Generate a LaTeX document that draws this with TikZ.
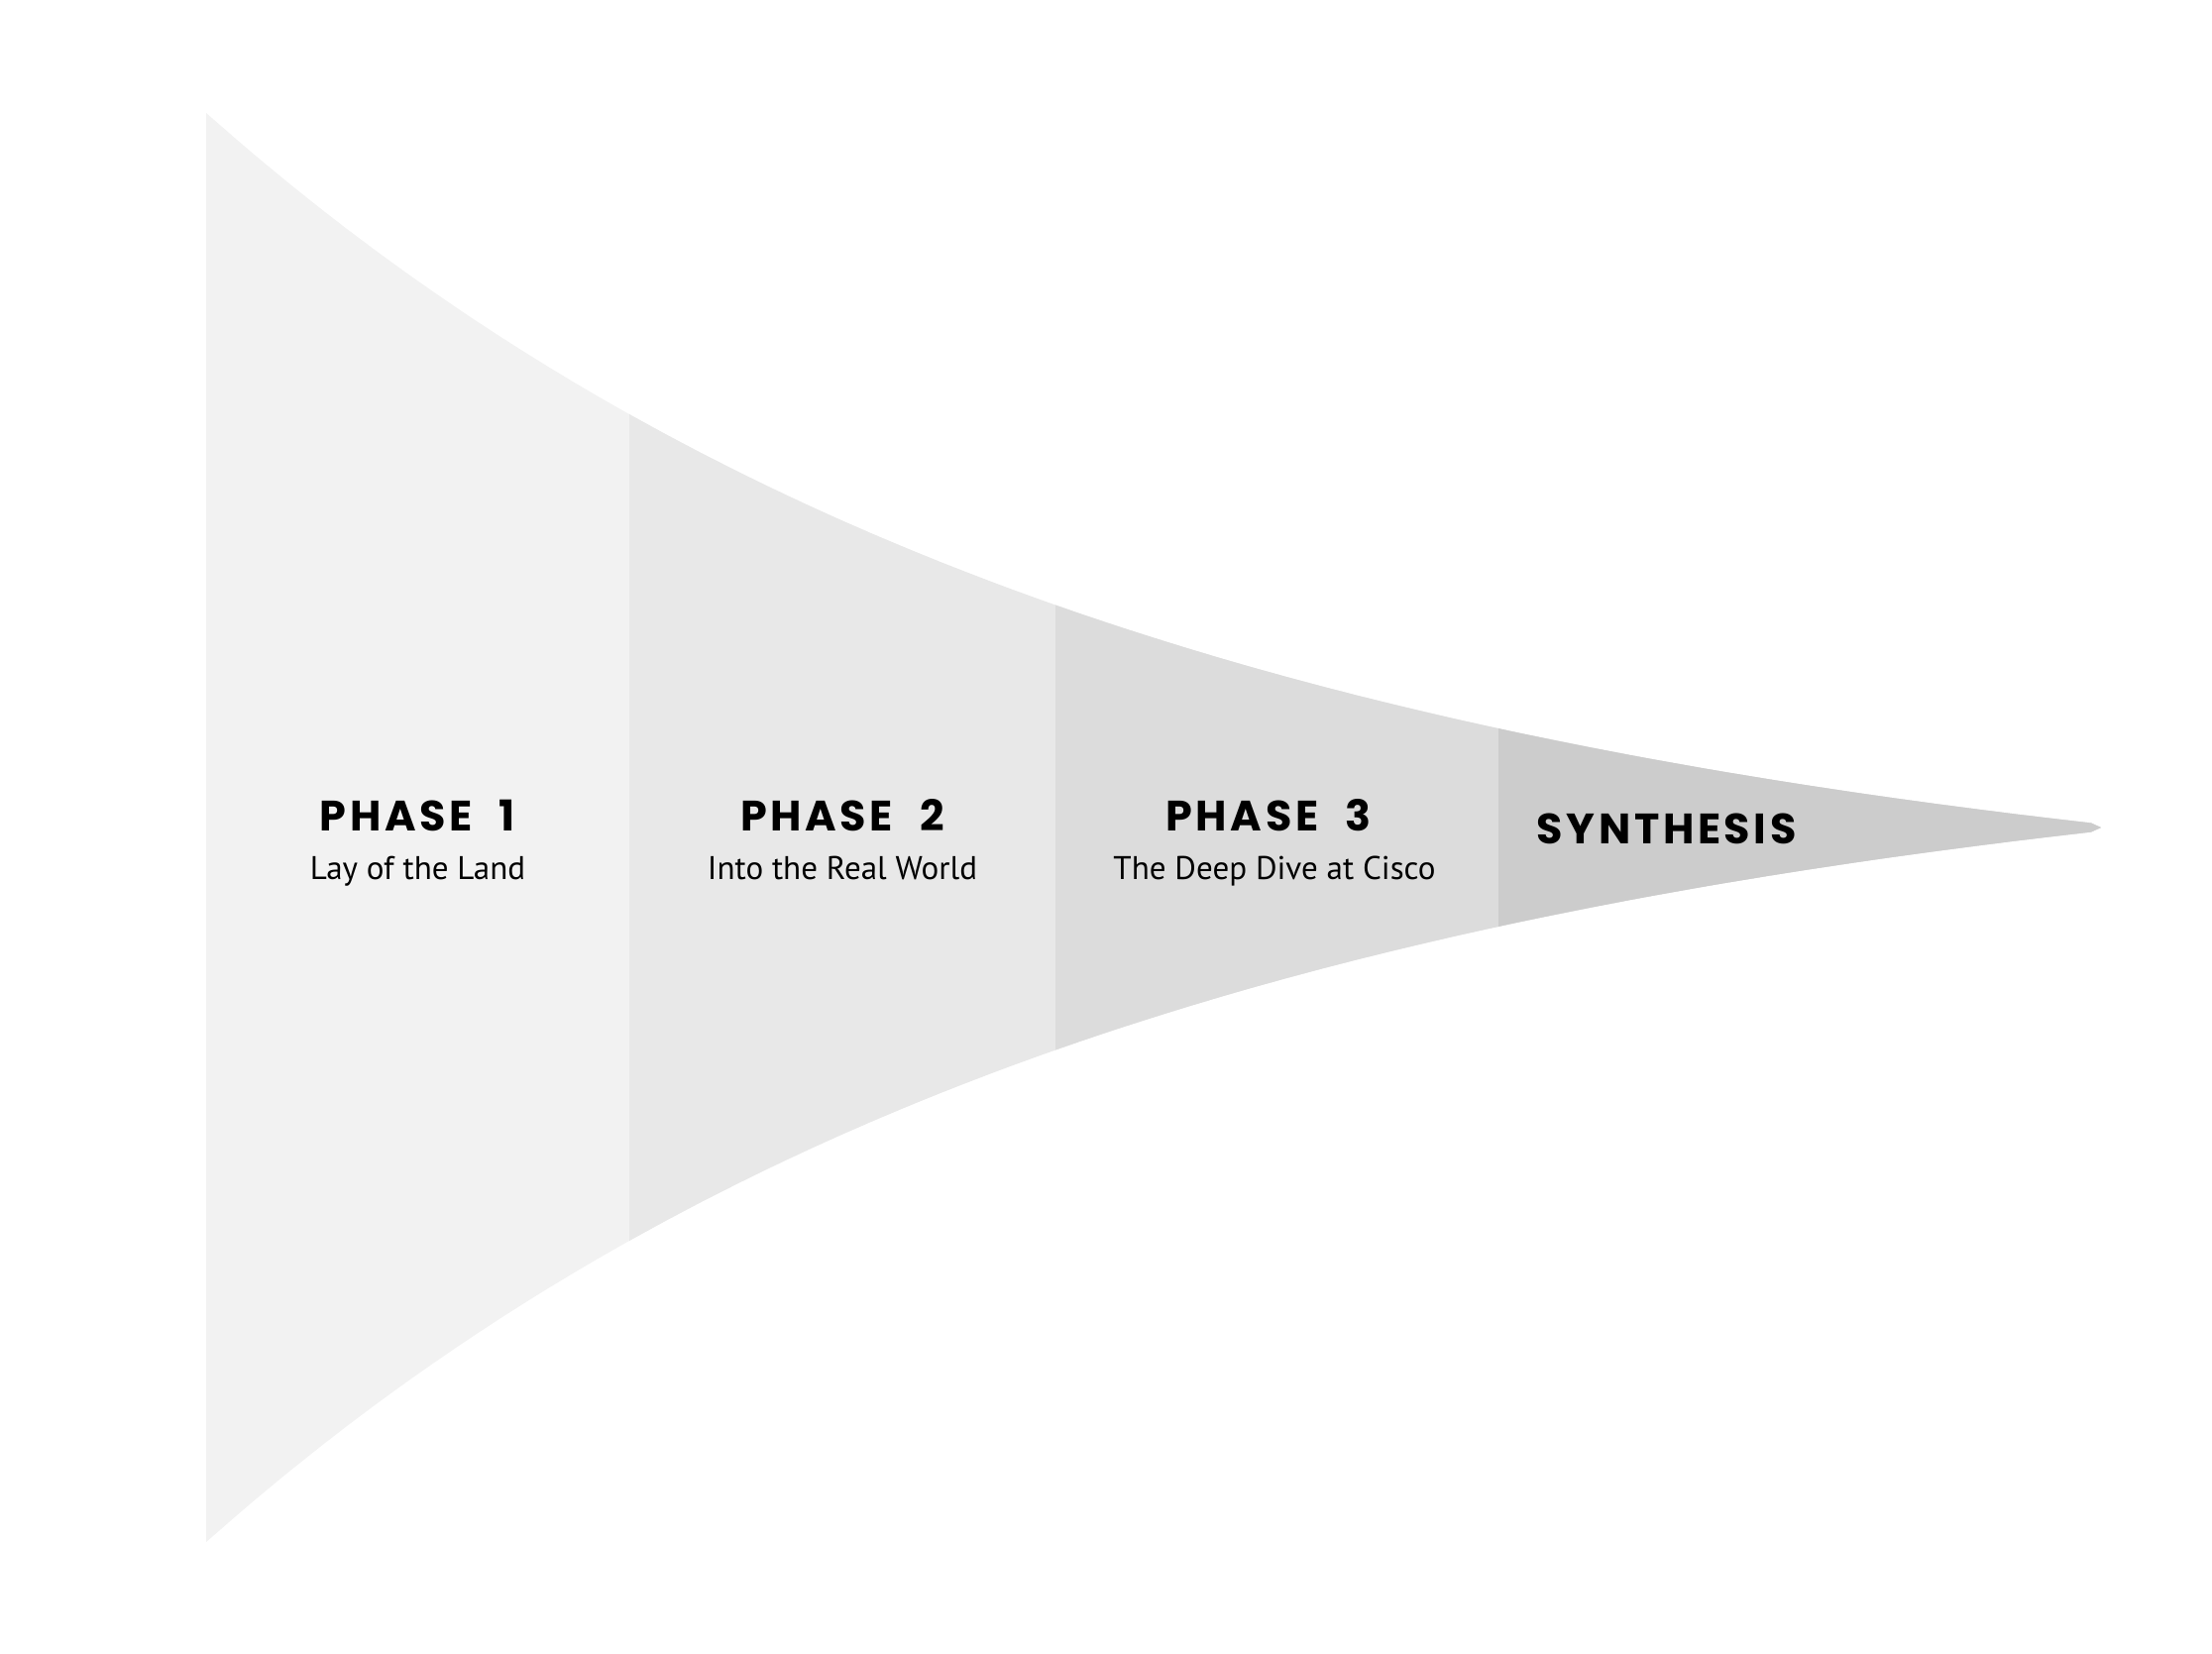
\documentclass[tikz,border=0pt]{standalone}
\usepackage{fontspec}
\newfontfamily\headfont{Poppins}[LetterSpace=8.5]
\newfontfamily\subfont{PT Sans}
\definecolor{segA}{HTML}{F2F2F2}
\definecolor{segB}{HTML}{E8E8E8}
\definecolor{segC}{HTML}{DCDCDC}
\definecolor{segD}{HTML}{CCCCCC}
\tikzset{
  headtxt/.style={font=\headfont\bfseries\fontsize{12.2pt}{14pt}\selectfont, text=black, inner sep=0pt, anchor=base},
  subtxt/.style={font=\subfont\fontsize{9.4pt}{11pt}\selectfont, text=black, inner sep=0pt, anchor=base}
}
% half-width of the funnel: 821*exp(-0.00109*(x-208)) - 100, centred on y = 835
\newcommand{\funnelshape}{plot[domain=208:2110, samples=160] (\x,{835-(821*exp(-0.00109*(\x-208))-100)}) -- (2120,835) -- plot[domain=2110:208, samples=160] (\x,{835+(821*exp(-0.00109*(\x-208))-100)}) -- cycle}
\newcommand{\phasegap}{\hspace{7.7pt}}
\begin{document}
\begin{tikzpicture}[x=0.01cm,y=-0.01cm]
\useasboundingbox (0,0) rectangle (2232,1668);
\fill[segA] \funnelshape;
\begin{scope}
  \clip (635,0) rectangle (2232,1668);
  \fill[segB] \funnelshape;
\end{scope}
\begin{scope}
  \clip (1065,0) rectangle (2232,1668);
  \fill[segC] \funnelshape;
\end{scope}
\begin{scope}
  \clip (1512,0) rectangle (2232,1668);
  \fill[segD] \funnelshape;
\end{scope}
\node[headtxt] (p1) at (421.5,838) {PHASE\phasegap 1};
\node[subtxt] (s1) at (421.5,887) {Lay of the Land};
\node[headtxt] (p2) at (850,838) {PHASE\phasegap 2};
\node[subtxt] (s2) at (850,887) {Into the Real World};
\node[headtxt] (p3) at (1280,838) {PHASE\phasegap 3};
\node[subtxt] (s3) at (1286,887) {The Deep Dive at Cisco};
\node[headtxt, anchor=base west] (syn) at (1550,851) {SYNTHESIS};
\end{tikzpicture}
\end{document}
